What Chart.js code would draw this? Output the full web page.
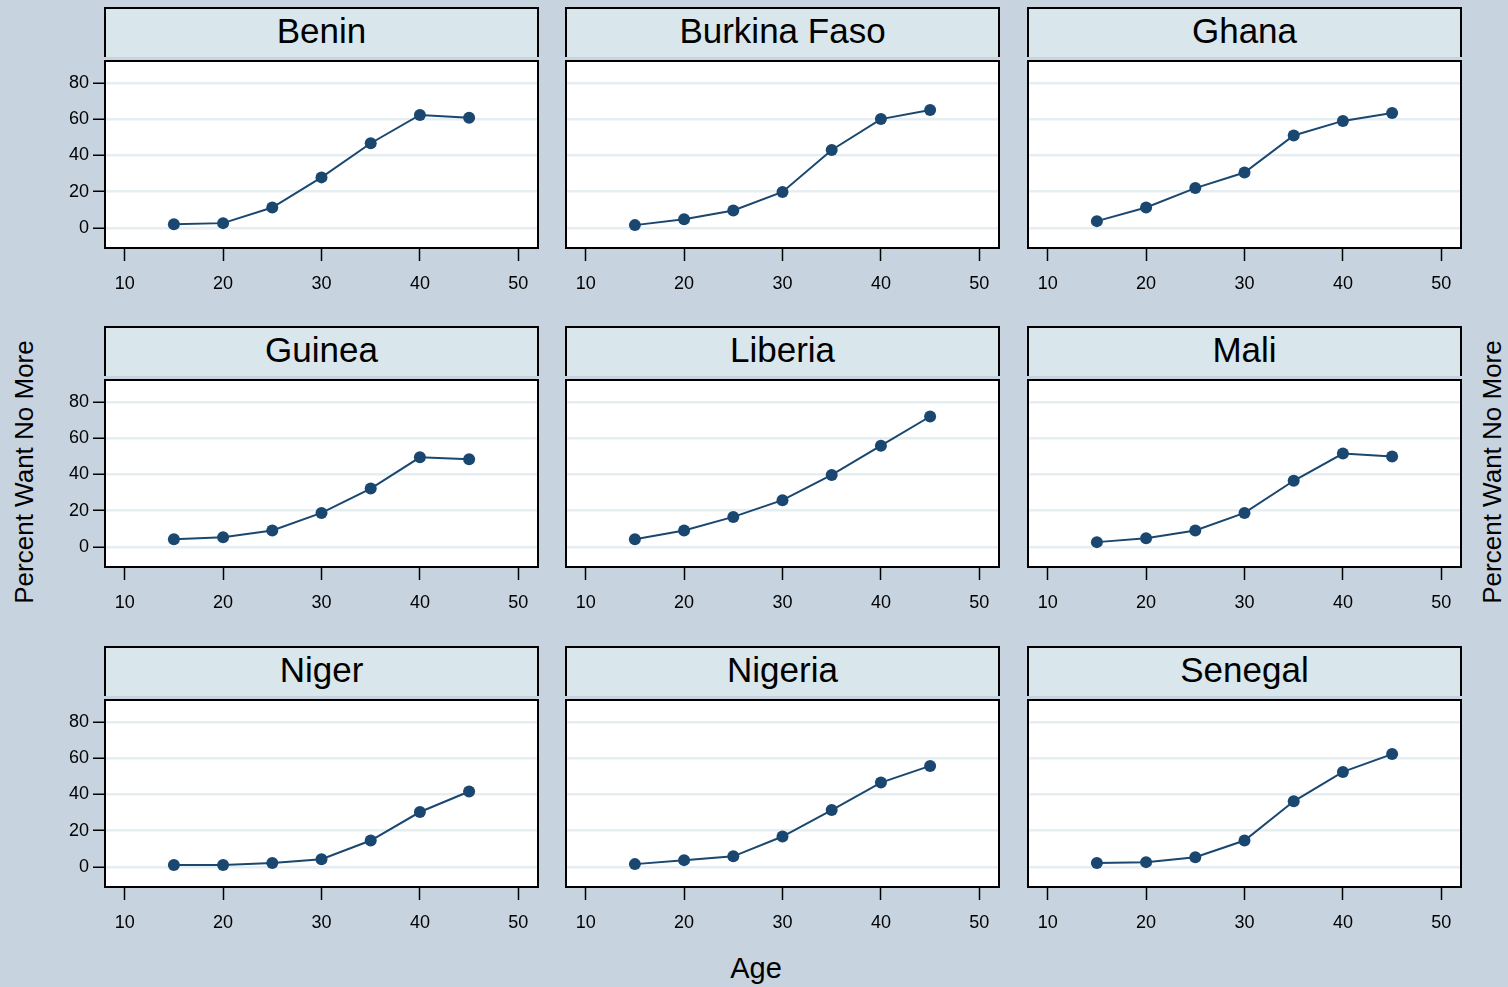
<!DOCTYPE html>
<html>
<head>
<meta charset="utf-8">
<script src="https://cdn.jsdelivr.net/npm/chart.js@4/dist/chart.umd.min.js"></script>
<style>
    body {
        margin: 0;
        background: #c7d3df;
        font-family: "Liberation Sans", Arial, sans-serif;
    }
    #wrap {
        position: relative;
        width: 1508px;
        height: 987px;
        overflow: hidden;
    }
    .strip {
        position: absolute;
        box-sizing: border-box;
        background: #d9e6ec;
        border: 2px solid #000;
        border-bottom: none;
        display: flex;
        align-items: center;
        justify-content: center;
        padding-bottom: 4px;
        font-size: 35px;
        color: #000;
    }
    .panel {
        position: absolute;
    }
    .ytitle {
        position: absolute;
        font-size: 26px;
        color: #000;
        white-space: nowrap;
        transform: translate(-50%, -50%) rotate(-90deg);
    }
    #xtitle {
        position: absolute;
        font-size: 29px;
        color: #000;
        transform: translate(-50%, -50%);
    }
</style>
</head>
<body>
<div id="wrap">
    <div class="ytitle" style="left:24px; top:472px;">Percent Want No More</div>
    <div class="ytitle" style="left:1492px; top:472px;">Percent Want No More</div>
    <div id="xtitle" style="left:756px; top:968px;">Age</div>
</div>

<script>
// ---- data ----
const ages = [15, 20, 25, 30, 35, 40, 45];
const xTicks = [10, 20, 30, 40, 50];
const yTicks = [0, 20, 40, 60, 80];

const countries = ['Benin', 'Burkina Faso', 'Ghana', 'Guinea', 'Liberia', 'Mali', 'Niger', 'Nigeria', 'Senegal'];

const benin      = [2.1, 2.7, 11.3, 27.9, 46.7, 62.3, 60.7];
const burkina    = [1.6, 4.8, 9.7, 19.9, 43.0, 60.0, 65.0];
const ghana      = [3.8, 11.3, 22.0, 30.6, 51.0, 59.0, 63.4];
const guinea     = [4.3, 5.4, 9.1, 18.8, 32.2, 49.4, 48.3];
const liberia    = [4.3, 9.1, 16.6, 25.8, 39.7, 55.8, 71.9];
const mali       = [2.7, 4.8, 9.1, 18.8, 36.5, 51.5, 49.9];
const niger      = [1.1, 1.1, 2.2, 4.3, 14.6, 30.3, 41.6];
const nigeria    = [1.6, 3.8, 5.9, 16.8, 31.4, 46.5, 55.7];
const senegal    = [2.2, 2.7, 5.4, 14.6, 36.2, 52.4, 62.2];

const seriesList = [benin, burkina, ghana, guinea, liberia, mali, niger, nigeria, senegal];

// ---- layout ----
const colLeft = [105, 566, 1028];
const rowTop = [8, 327, 647];
const panelW = 433;
const stripH = 49;
const plotH = 191;
const padL = 62, padR = 8, padT = 2, padB = 48;

const lineColor = '#1a476f';

// white plot background + full box round the plot area
const framePlugin = {
    id: 'frame',
    beforeDraw(chart) {
        const a = chart.chartArea;
        const ctx = chart.ctx;
        ctx.save();
        ctx.fillStyle = '#fff';
        ctx.fillRect(a.left, a.top, a.right - a.left, a.bottom - a.top);
        ctx.restore();
    },
    afterDraw(chart) {
        const a = chart.chartArea;
        const ctx = chart.ctx;
        ctx.save();
        ctx.strokeStyle = '#000';
        ctx.lineWidth = 2;
        ctx.strokeRect(a.left, a.top, a.right - a.left, a.bottom - a.top);
        ctx.restore();
    }
};

const wrap = document.getElementById('wrap');

countries.forEach(function(name, i) {
    const col = i % 3;
    const row = Math.floor(i / 3);
    const left = colLeft[col];
    const top = rowTop[row];

    // header strip
    const strip = document.createElement('div');
    strip.className = 'strip';
    strip.style.left = (left - 1) + 'px';
    strip.style.top = (top - 1) + 'px';
    strip.style.width = (panelW + 2) + 'px';
    strip.style.height = (stripH + 1) + 'px';
    strip.textContent = name;
    wrap.appendChild(strip);

    // plot canvas
    const canvas = document.createElement('canvas');
    canvas.className = 'panel';
    const cw = panelW + padL + padR;
    const ch = plotH + padT + padB;
    canvas.width = cw;
    canvas.height = ch;
    canvas.style.width = cw + 'px';
    canvas.style.height = ch + 'px';
    canvas.style.left = (left - padL) + 'px';
    canvas.style.top = (top + stripH - padT) + 'px';
    wrap.appendChild(canvas);

    const showY = col === 0;

    new Chart(canvas, {
        type: 'line',
        data: {
            datasets: [{
                data: ages.map((a, k) => ({ x: a, y: seriesList[i][k] })),
                borderColor: lineColor,
                backgroundColor: lineColor,
                borderWidth: 2,
                pointRadius: 6,
                pointBorderWidth: 0,
                tension: 0
            }]
        },
        options: {
            responsive: false,
            animation: false,
            devicePixelRatio: 1,
            layout: {
                padding: { top: padT, right: padR, left: 0, bottom: 0 }
            },
            plugins: {
                legend: { display: false },
                tooltip: { enabled: false }
            },
            scales: {
                x: {
                    type: 'linear',
                    min: 8,
                    max: 52,
                    afterBuildTicks: function(scale) {
                        scale.ticks = xTicks.map(v => ({ value: v }));
                    },
                    afterFit: function(scale) {
                        scale.height = padB;
                        scale.paddingLeft = 0;
                        scale.paddingRight = 0;
                    },
                    border: { display: false },
                    grid: {
                        drawOnChartArea: false,
                        drawTicks: true,
                        tickLength: 13,
                        tickColor: '#000',
                        tickWidth: 1.5
                    },
                    ticks: {
                        color: '#000',
                        padding: 12,
                        maxRotation: 0,
                        font: { family: 'Liberation Sans', size: 18 }
                    }
                },
                y: {
                    min: -11,
                    max: 92,
                    afterBuildTicks: function(scale) {
                        scale.ticks = yTicks.map(v => ({ value: v }));
                    },
                    afterFit: function(scale) {
                        scale.width = padL;
                        scale.paddingTop = 0;
                        scale.paddingBottom = 0;
                    },
                    border: { display: false },
                    grid: {
                        color: '#e5eef1',
                        lineWidth: 2.5,
                        drawTicks: showY,
                        tickLength: 12,
                        tickColor: '#000',
                        tickWidth: 1.5
                    },
                    ticks: {
                        display: showY,
                        color: '#000',
                        padding: 4,
                        font: { family: 'Liberation Sans', size: 18 }
                    }
                }
            }
        },
        plugins: [framePlugin]
    });
});
</script>
</body>
</html>
